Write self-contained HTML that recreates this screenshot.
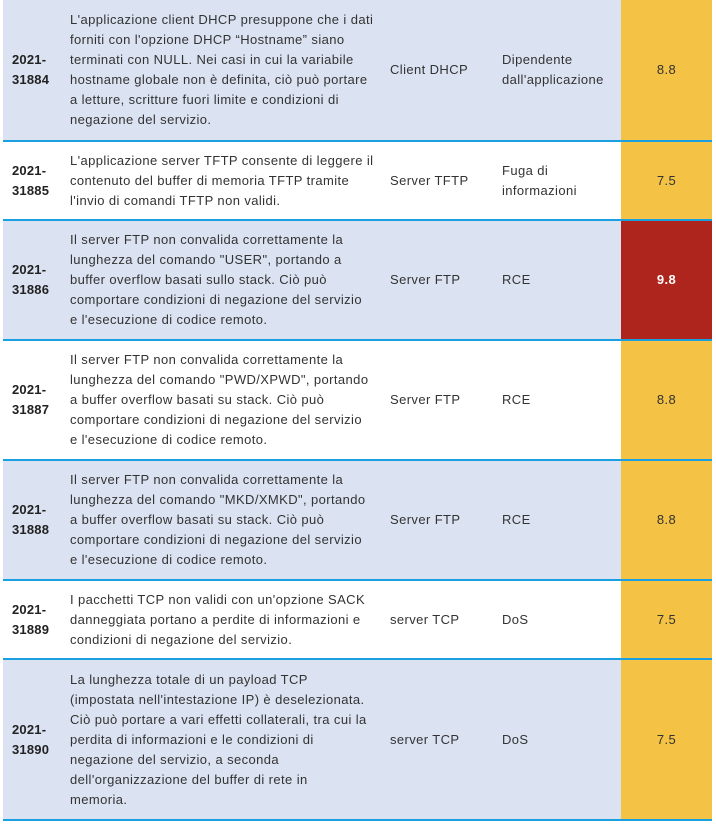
<!DOCTYPE html>
<html><head><meta charset="utf-8"><style>
body{margin:0;width:716px;height:825px;background:#fff;font-family:"Liberation Sans",sans-serif;font-size:13px;letter-spacing:0.4px;color:#333;position:relative;overflow:hidden}
.r{position:absolute;left:3px;width:709px;border-bottom:2px solid #1a9fe0;box-sizing:border-box}
.a{background:#dbe2f1}
.c{position:absolute;top:0;bottom:0;display:flex;align-items:center;line-height:20px;white-space:nowrap}
.d{left:9px;width:50px;font-weight:bold;color:#222;letter-spacing:0.2px}
.t{left:67px;width:314px}
.y{left:387px;width:108px}
.i{left:499px;width:118px}
.s{left:618px;width:91px;background:#f4c245;justify-content:center}
.red{background:#ad251c;color:#fff;font-weight:bold}
</style></head><body>
<div class="r a" style="top:0;height:142px"><div class="c d">2021-<br>31884</div><div class="c t">L'applicazione client DHCP presuppone che i dati<br>forniti con l'opzione DHCP “Hostname” siano<br>terminati con NULL. Nei casi in cui la variabile<br>hostname globale non è definita, ciò può portare<br>a letture, scritture fuori limite e condizioni di<br>negazione del servizio.</div><div class="c y">Client DHCP</div><div class="c i">Dipendente<br>dall'applicazione</div><div class="c s">8.8</div></div>
<div class="r" style="top:142px;height:79px"><div class="c d">2021-<br>31885</div><div class="c t">L'applicazione server TFTP consente di leggere il<br>contenuto del buffer di memoria TFTP tramite<br>l'invio di comandi TFTP non validi.</div><div class="c y">Server TFTP</div><div class="c i">Fuga di<br>informazioni</div><div class="c s">7.5</div></div>
<div class="r a" style="top:221px;height:120px"><div class="c d">2021-<br>31886</div><div class="c t">Il server FTP non convalida correttamente la<br>lunghezza del comando "USER", portando a<br>buffer overflow basati sullo stack. Ciò può<br>comportare condizioni di negazione del servizio<br>e l'esecuzione di codice remoto.</div><div class="c y">Server FTP</div><div class="c i">RCE</div><div class="c s red">9.8</div></div>
<div class="r" style="top:341px;height:120px"><div class="c d">2021-<br>31887</div><div class="c t">Il server FTP non convalida correttamente la<br>lunghezza del comando "PWD/XPWD", portando<br>a buffer overflow basati su stack. Ciò può<br>comportare condizioni di negazione del servizio<br>e l'esecuzione di codice remoto.</div><div class="c y">Server FTP</div><div class="c i">RCE</div><div class="c s">8.8</div></div>
<div class="r a" style="top:461px;height:120px"><div class="c d">2021-<br>31888</div><div class="c t">Il server FTP non convalida correttamente la<br>lunghezza del comando "MKD/XMKD", portando<br>a buffer overflow basati su stack. Ciò può<br>comportare condizioni di negazione del servizio<br>e l'esecuzione di codice remoto.</div><div class="c y">Server FTP</div><div class="c i">RCE</div><div class="c s">8.8</div></div>
<div class="r" style="top:581px;height:79px"><div class="c d">2021-<br>31889</div><div class="c t">I pacchetti TCP non validi con un'opzione SACK<br>danneggiata portano a perdite di informazioni e<br>condizioni di negazione del servizio.</div><div class="c y">server TCP</div><div class="c i">DoS</div><div class="c s">7.5</div></div>
<div class="r a" style="top:660px;height:161px"><div class="c d">2021-<br>31890</div><div class="c t">La lunghezza totale di un payload TCP<br>(impostata nell'intestazione IP) è deselezionata.<br>Ciò può portare a vari effetti collaterali, tra cui la<br>perdita di informazioni e le condizioni di<br>negazione del servizio, a seconda<br>dell'organizzazione del buffer di rete in<br>memoria.</div><div class="c y">server TCP</div><div class="c i">DoS</div><div class="c s">7.5</div></div>
</body></html>
